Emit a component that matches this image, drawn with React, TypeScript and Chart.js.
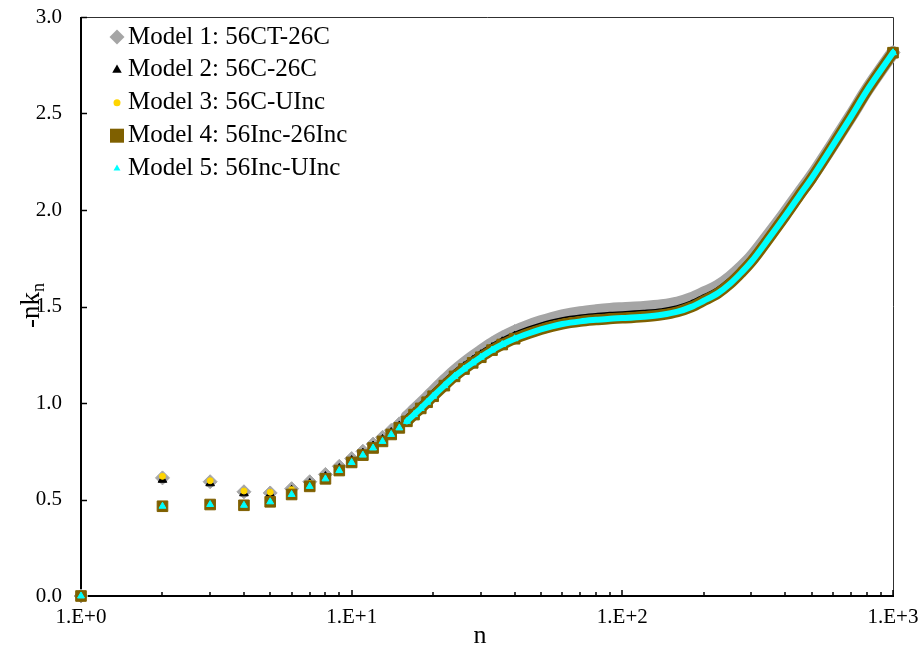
import React, { useEffect, useRef } from 'react';
import { Chart, registerables } from 'chart.js';

Chart.register(...registerables);

// ---------- data ----------
const nValues = [1, 2, 3, 4, 5, 6, 7, 8, 9, 10, 11, 12, 13, 14, 15, 16, 17, 18, 19, 20, 22, 24, 26, 28, 30, 33, 36, 40, 45, 50, 55, 60, 70, 80, 90, 100, 120, 140, 160, 180, 200, 225, 250, 275, 300, 350, 400, 450, 500, 600, 700, 800, 900, 1000];

const model1 = [0, 0.612, 0.592, 0.540, 0.534, 0.556, 0.592, 0.630, 0.672, 0.712, 0.750, 0.787, 0.822, 0.858, 0.892, 0.927, 0.962, 0.995, 1.027, 1.058, 1.115, 1.164, 1.204, 1.238, 1.268, 1.307, 1.338, 1.370, 1.399, 1.421, 1.438, 1.451, 1.468, 1.478, 1.485, 1.489, 1.495, 1.504, 1.518, 1.541, 1.570, 1.604, 1.650, 1.702, 1.756, 1.876, 1.984, 2.084, 2.172, 2.341, 2.488, 2.620, 2.725, 2.816];

const model2 = [0, 0.602, 0.584, 0.532, 0.527, 0.548, 0.583, 0.619, 0.661, 0.702, 0.740, 0.777, 0.811, 0.847, 0.881, 0.915, 0.950, 0.982, 1.014, 1.045, 1.100, 1.149, 1.188, 1.220, 1.250, 1.287, 1.317, 1.347, 1.375, 1.396, 1.412, 1.424, 1.438, 1.446, 1.452, 1.455, 1.462, 1.471, 1.487, 1.511, 1.542, 1.579, 1.628, 1.684, 1.741, 1.865, 1.975, 2.077, 2.166, 2.337, 2.486, 2.618, 2.724, 2.815];

const model3 = [0, 0.620, 0.597, 0.544, 0.538, 0.551, 0.583, 0.617, 0.658, 0.698, 0.736, 0.773, 0.807, 0.843, 0.877, 0.911, 0.946, 0.978, 1.010, 1.041, 1.096, 1.145, 1.184, 1.216, 1.246, 1.283, 1.313, 1.343, 1.371, 1.392, 1.408, 1.420, 1.434, 1.442, 1.448, 1.451, 1.458, 1.467, 1.483, 1.507, 1.538, 1.575, 1.624, 1.680, 1.738, 1.862, 1.973, 2.075, 2.165, 2.336, 2.485, 2.618, 2.724, 2.815];

const model4 = [0, 0.465, 0.474, 0.470, 0.488, 0.526, 0.568, 0.607, 0.650, 0.692, 0.730, 0.767, 0.801, 0.837, 0.871, 0.905, 0.940, 0.972, 1.004, 1.035, 1.090, 1.138, 1.176, 1.208, 1.237, 1.274, 1.303, 1.333, 1.360, 1.381, 1.397, 1.409, 1.423, 1.431, 1.437, 1.440, 1.447, 1.457, 1.473, 1.498, 1.530, 1.568, 1.618, 1.675, 1.733, 1.858, 1.970, 2.073, 2.163, 2.335, 2.484, 2.617, 2.723, 2.815];

const model5 = [0, 0.465, 0.474, 0.470, 0.488, 0.526, 0.568, 0.607, 0.650, 0.692, 0.730, 0.767, 0.801, 0.837, 0.871, 0.905, 0.940, 0.972, 1.004, 1.035, 1.090, 1.138, 1.176, 1.208, 1.237, 1.274, 1.303, 1.333, 1.360, 1.381, 1.397, 1.409, 1.423, 1.431, 1.437, 1.440, 1.447, 1.457, 1.473, 1.498, 1.530, 1.568, 1.618, 1.675, 1.733, 1.858, 1.970, 2.073, 2.163, 2.335, 2.484, 2.617, 2.723, 2.815];

const seriesNames = ['Model 1: 56CT-26C', 'Model 2: 56C-26C', 'Model 3: 56C-UInc', 'Model 4: 56Inc-26Inc', 'Model 5: 56Inc-UInc'];

const xTickValues = [1, 10, 100, 1000];
const xTickLabels = ['1.E+0', '1.E+1', '1.E+2', '1.E+3'];
const xMinorTickValues = [2, 3, 4, 5, 6, 7, 8, 9, 20, 30, 40, 50, 60, 70, 80, 90, 200, 300, 400, 500, 600, 700, 800, 900];
const yTickValues = [0, 0.5, 1, 1.5, 2, 2.5, 3];
const yTickLabels = ['0.0', '0.5', '1.0', '1.5', '2.0', '2.5', '3.0'];
const xTitle = 'n';
const yTitleMain = '-nk';
const yTitleSub = 'n';

// ---------- styles ----------
const FONT = "'Liberation Serif', 'Times New Roman', serif";
const seriesStyles = [
  { values: model1, color: '#A5A5A5', pointStyle: 'rectRot', radius: 7, line: 13 },
  { values: model2, color: '#000000', pointStyle: 'triangle', radius: 5, line: 8 },
  { values: model3, color: '#FFD500', pointStyle: 'circle', radius: 3, line: 6 },
  { values: model4, color: '#7F6000', pointStyle: 'rect', radius: 7.5, line: 11 },
  { values: model5, color: '#00FFFF', pointStyle: 'triangle', radius: 4, line: 6 },
];

function drawMarker(ctx: CanvasRenderingContext2D, style: string, x: number, y: number, r: number, color: string) {
  ctx.fillStyle = color;
  ctx.beginPath();
  if (style === 'rectRot') {
    ctx.moveTo(x, y - r); ctx.lineTo(x + r, y); ctx.lineTo(x, y + r); ctx.lineTo(x - r, y); ctx.closePath();
  } else if (style === 'triangle') {
    const h = r * 1.5, w = r * 1.732;
    ctx.moveTo(x, y - r); ctx.lineTo(x + w / 2, y - r + h); ctx.lineTo(x - w / 2, y - r + h); ctx.closePath();
  } else if (style === 'circle') {
    ctx.arc(x, y, r, 0, Math.PI * 2);
  } else {
    ctx.rect(x - r, y - r, 2 * r, 2 * r);
  }
  ctx.fill();
}

const framePlugin = {
  id: 'frame',
  beforeDatasetsDraw(chart: any) {
    const { ctx, chartArea: a, scales } = chart;
    ctx.save();
    ctx.strokeStyle = '#303030';
    ctx.lineWidth = 1;
    ctx.beginPath();
    ctx.moveTo(a.left, a.top + 0.5);
    ctx.lineTo(a.right + 0.5, a.top + 0.5);
    ctx.lineTo(a.right + 0.5, a.bottom);
    ctx.stroke();
    ctx.strokeStyle = '#000';
    ctx.lineWidth = 2;
    ctx.beginPath();
    ctx.moveTo(a.left, a.top);
    ctx.lineTo(a.left, a.bottom);
    ctx.lineTo(a.right + 1, a.bottom);
    ctx.stroke();
    ctx.lineWidth = 1.5;
    yTickValues.forEach((v) => {
      const y = Math.round(scales.y.getPixelForValue(v)) + 0.5;
      ctx.beginPath(); ctx.moveTo(a.left, y); ctx.lineTo(a.left + 6, y); ctx.stroke();
    });
    xTickValues.forEach((v) => {
      const x = Math.round(scales.x.getPixelForValue(v));
      ctx.beginPath(); ctx.moveTo(x, a.bottom); ctx.lineTo(x, a.bottom - 6); ctx.stroke();
    });
    xMinorTickValues.forEach((v) => {
      const x = Math.round(scales.x.getPixelForValue(v));
      ctx.beginPath(); ctx.moveTo(x, a.bottom); ctx.lineTo(x, a.bottom - 4); ctx.stroke();
    });
    ctx.restore();
  },
  afterDraw(chart: any) {
    const { ctx, chartArea: a } = chart;
    ctx.save();
    // legend
    ctx.font = `25px ${FONT}`;
    ctx.textBaseline = 'middle';
    ctx.textAlign = 'left';
    const legendMarkers = [
      { r: 7.5 }, { r: 5.5 }, { r: 3.5 }, { r: 7 }, { r: 4 },
    ];
    seriesNames.forEach((name, i) => {
      const y = 37 + i * 32.9;
      const s = seriesStyles[i];
      drawMarker(ctx, s.pointStyle, 117, y, legendMarkers[i].r, s.color);
      ctx.fillStyle = '#000';
      ctx.fillText(name, 128, y);
    });
    // x title
    ctx.font = `26px ${FONT}`;
    ctx.textAlign = 'center';
    ctx.textBaseline = 'alphabetic';
    ctx.fillText(xTitle, (a.left + a.right) / 2 - 7, 643);
    // y title
    ctx.translate(39, 328);
    ctx.rotate(-Math.PI / 2);
    ctx.textAlign = 'left';
    ctx.font = `27px ${FONT}`;
    ctx.fillText(yTitleMain, 0, 0);
    const w = ctx.measureText(yTitleMain).width;
    ctx.font = `18px ${FONT}`;
    ctx.fillText(yTitleSub, w, 5);
    ctx.restore();
  },
};

export default function App() {
  const ref = useRef<HTMLCanvasElement>(null);
  useEffect(() => {
    const canvas = ref.current;
    if (!canvas) return;
    const datasets = seriesStyles.map((s, i) => ({
      label: seriesNames[i],
      data: nValues.map((n, j) => ({ x: n, y: s.values[j] })),
      showLine: true,
      borderColor: s.color,
      backgroundColor: s.color,
      borderWidth: s.line,
      borderCapStyle: 'round',
      borderJoinStyle: 'round',
      pointStyle: s.pointStyle,
      pointRadius: (c: any) => {
        const n = nValues[c.dataIndex];
        return n <= 40 || n === 1000 ? s.radius : 0;
      },
      pointHoverRadius: 0,
      pointBorderWidth: 1,
      pointBackgroundColor: s.color,
      pointBorderColor: s.color,
      segment: {
        borderColor: (c: any) => (c.p0.parsed.x >= 16 ? s.color : 'rgba(0,0,0,0)'),
      },
      cubicInterpolationMode: 'monotone',
      order: 5 - i,
      clip: false,
    }));

    const chart = new Chart(canvas, {
      type: 'scatter',
      data: { datasets } as any,
      options: {
        responsive: false,
        animation: false,
        events: [],
        layout: { padding: { left: 0, top: 17, right: 27, bottom: 0 } },
        plugins: { legend: { display: false }, tooltip: { enabled: false } },
        scales: {
          x: {
            type: 'logarithmic',
            min: 1,
            max: 1000,
            grid: { display: false, drawTicks: false },
            border: { display: false },
            afterBuildTicks: (scale: any) => {
              scale.ticks = xTickValues.map((v) => ({ value: v }));
            },
            afterFit: (scale: any) => {
              scale.height = 54;
              scale.paddingLeft = 0; scale.paddingRight = 0;
              scale.paddingTop = 0; scale.paddingBottom = 0;
            },
            ticks: {
              autoSkip: false,
              maxRotation: 0,
              padding: 9,
              color: '#000',
              font: { family: FONT, size: 21 },
              callback: (_v: any, idx: number) => xTickLabels[idx],
            },
          },
          y: {
            type: 'linear',
            min: 0,
            max: 3,
            grid: { display: false, drawTicks: false },
            border: { display: false },
            afterBuildTicks: (scale: any) => {
              scale.ticks = yTickValues.map((v) => ({ value: v }));
            },
            afterFit: (scale: any) => {
              scale.width = 81;
              scale.paddingLeft = 0; scale.paddingRight = 0;
              scale.paddingTop = 0; scale.paddingBottom = 0;
            },
            ticks: {
              padding: 19,
              color: '#000',
              font: { family: FONT, size: 21 },
              callback: (_v: any, idx: number) => yTickLabels[idx],
            },
          },
        },
      } as any,
      plugins: [framePlugin],
    });
    return () => chart.destroy();
  }, []);

  return (
    <div style={{ position: 'fixed', left: 0, top: 0, width: 920, height: 650, background: '#fff' }}>
      <canvas ref={ref} width={920} height={650} style={{ display: 'block' }} />
    </div>
  );
}
